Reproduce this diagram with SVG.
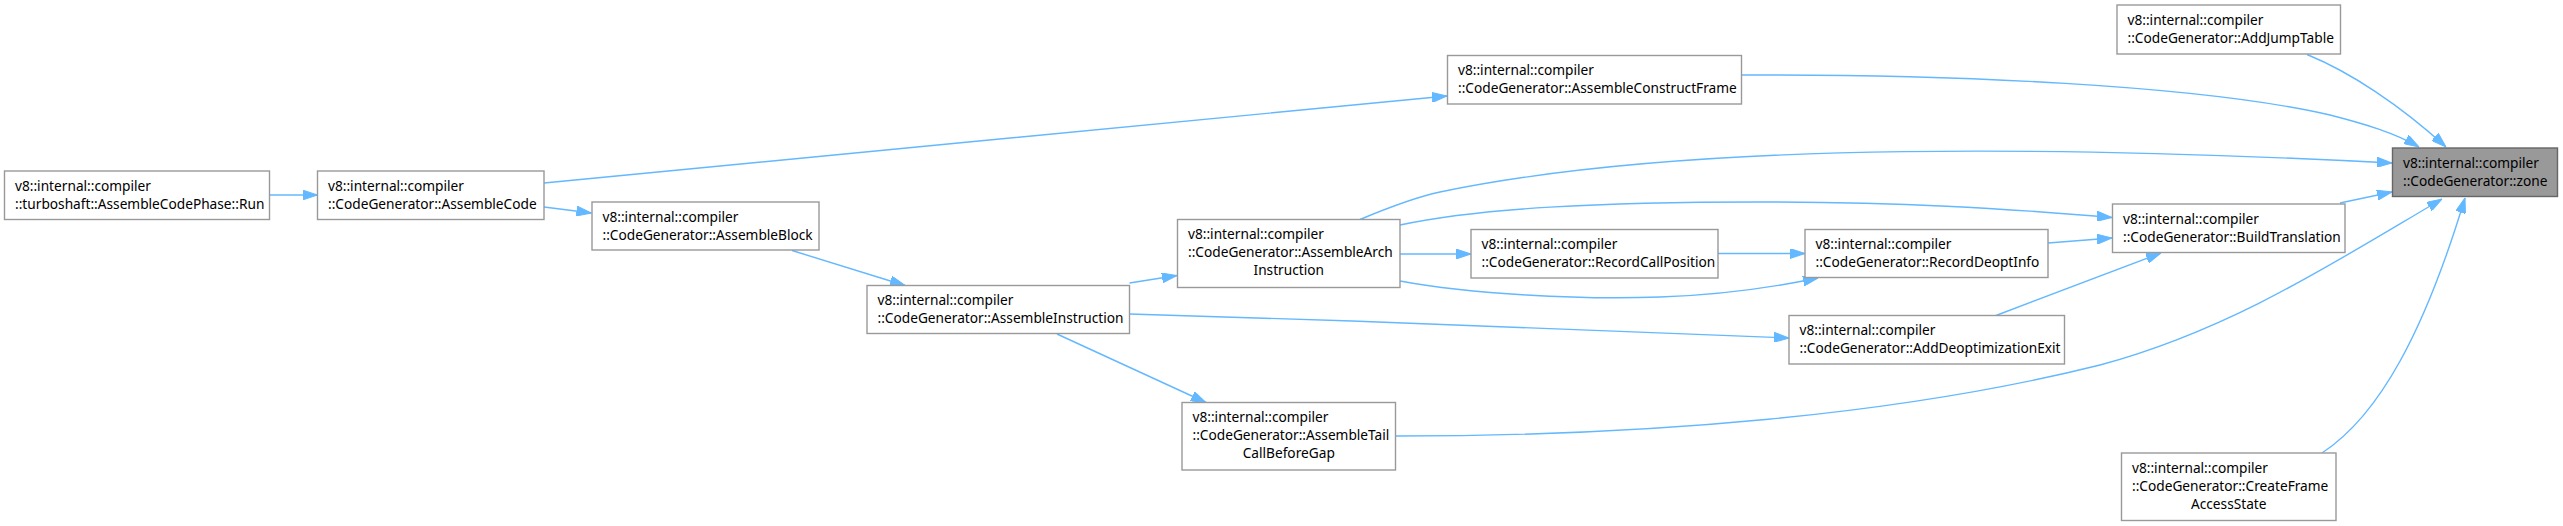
<svg xmlns="http://www.w3.org/2000/svg" width="2563" height="526" viewBox="0 0 2563 526">
<defs>
<style>
.node rect{fill:#ffffff;stroke:#999999;stroke-width:1.4}
#n_zone rect{fill:#999999;stroke:#666666}
text{font-family:"Noto Sans","Open Sans","Liberation Sans",sans-serif;font-size:13.7px;fill:#000000}
.c{text-anchor:middle}
.edge{fill:none;stroke:#63b8ff;stroke-width:1.4;marker-end:url(#arr)}
</style>
<marker id="arr" markerUnits="userSpaceOnUse" markerWidth="15" markerHeight="10" refX="15" refY="5" orient="auto" viewBox="0 0 15 10">
<path d="M0,0 L15,5 L0,10 Z" fill="#63b8ff" stroke="#63b8ff" stroke-width="1"/>
</marker>
</defs>
<rect width="2563" height="526" fill="#ffffff"/>
<g id="edges">
<path class="edge" d="M269.5,195 L317.5,195"/>
<path class="edge" d="M544,207 L591.5,213"/>
<path class="edge" d="M544,183 C800,158 1200,120 1447,96"/>
<path class="edge" d="M792,250.5 L905,285.5"/>
<path class="edge" d="M1129.5,283 L1177,275.5"/>
<path class="edge" d="M1129.5,314 C1350,320 1600,330 1789,338"/>
<path class="edge" d="M1057,334 L1206,402.5"/>
<path class="edge" d="M1360,219.5 C1385,209 1412,198 1440,192 C1700,138 2100,148 2392,163"/>
<path class="edge" d="M1400,225 C1480,208 1600,202 1760,202 C1900,202 2000,208 2112,217.5"/>
<path class="edge" d="M1400,254 L1471,254"/>
<path class="edge" d="M1400,281 C1470,294 1580,300 1660,297 C1720,295 1770,288 1818,278"/>
<path class="edge" d="M1718,253.5 L1805,253.5"/>
<path class="edge" d="M2048,243 L2112,238"/>
<path class="edge" d="M1996,315.5 L2161,253"/>
<path class="edge" d="M1741.5,75 C1950,74 2200,85 2330,115 C2365,124 2395,133 2419,147"/>
<path class="edge" d="M2307,54.5 C2350,72 2400,105 2446,147"/>
<path class="edge" d="M2340,203 L2392,192"/>
<path class="edge" d="M1396,436 C1650,436 1900,415 2100,365 C2230,330 2330,265 2442,199"/>
<path class="edge" d="M2322,453 C2380,415 2425,330 2465,198"/>
</g>
<g id="n_run" class="node"><rect x="4.5" y="171" width="265" height="48.5"/><text x="15" y="190.5">v8::internal::compiler</text><text x="15" y="208.5">::turboshaft::AssembleCodePhase::Run</text></g>
<g id="n_code" class="node"><rect x="317.5" y="171" width="226.5" height="48.5"/><text x="328" y="190.5">v8::internal::compiler</text><text x="328" y="208.5">::CodeGenerator::AssembleCode</text></g>
<g id="n_block" class="node"><rect x="592" y="202" width="227" height="48"/><text x="602.5" y="221.5">v8::internal::compiler</text><text x="602.5" y="239.5">::CodeGenerator::AssembleBlock</text></g>
<g id="n_instr" class="node"><rect x="867" y="285.5" width="262.5" height="48"/><text x="877.5" y="305">v8::internal::compiler</text><text x="877.5" y="323">::CodeGenerator::AssembleInstruction</text></g>
<g id="n_arch" class="node"><rect x="1177.5" y="219.5" width="222.5" height="68"/><text x="1188" y="239">v8::internal::compiler</text><text x="1188" y="257">::CodeGenerator::AssembleArch</text><text class="c" x="1288.75" y="275">Instruction</text></g>
<g id="n_tail" class="node"><rect x="1182" y="402.5" width="213.5" height="67.5"/><text x="1192.5" y="422">v8::internal::compiler</text><text x="1192.5" y="440">::CodeGenerator::AssembleTail</text><text class="c" x="1288.75" y="458">CallBeforeGap</text></g>
<g id="n_acf" class="node"><rect x="1447.5" y="55.5" width="294" height="48.5"/><text x="1458" y="75">v8::internal::compiler</text><text x="1458" y="93">::CodeGenerator::AssembleConstructFrame</text></g>
<g id="n_rcp" class="node"><rect x="1471" y="229.5" width="247" height="48.5"/><text x="1481.5" y="249">v8::internal::compiler</text><text x="1481.5" y="267">::CodeGenerator::RecordCallPosition</text></g>
<g id="n_rdi" class="node"><rect x="1805" y="229.5" width="243" height="48"/><text x="1815.5" y="249">v8::internal::compiler</text><text x="1815.5" y="267">::CodeGenerator::RecordDeoptInfo</text></g>
<g id="n_ade" class="node"><rect x="1789" y="315.5" width="275.5" height="48.5"/><text x="1799.5" y="335">v8::internal::compiler</text><text x="1799.5" y="353">::CodeGenerator::AddDeoptimizationExit</text></g>
<g id="n_bt" class="node"><rect x="2112.5" y="204" width="232.5" height="48.5"/><text x="2123" y="223.5">v8::internal::compiler</text><text x="2123" y="241.5">::CodeGenerator::BuildTranslation</text></g>
<g id="n_zone" class="node"><rect x="2392.5" y="148" width="165" height="48.5"/><text x="2403" y="167.5">v8::internal::compiler</text><text x="2403" y="185.5">::CodeGenerator::zone</text></g>
<g id="n_ajt" class="node"><rect x="2117" y="5" width="223.5" height="49"/><text x="2127.5" y="24.5">v8::internal::compiler</text><text x="2127.5" y="42.5">::CodeGenerator::AddJumpTable</text></g>
<g id="n_cfa" class="node"><rect x="2121.5" y="453" width="214.5" height="67.5"/><text x="2132" y="472.5">v8::internal::compiler</text><text x="2132" y="490.5">::CodeGenerator::CreateFrame</text><text class="c" x="2228.75" y="508.5">AccessState</text></g>
</svg>
